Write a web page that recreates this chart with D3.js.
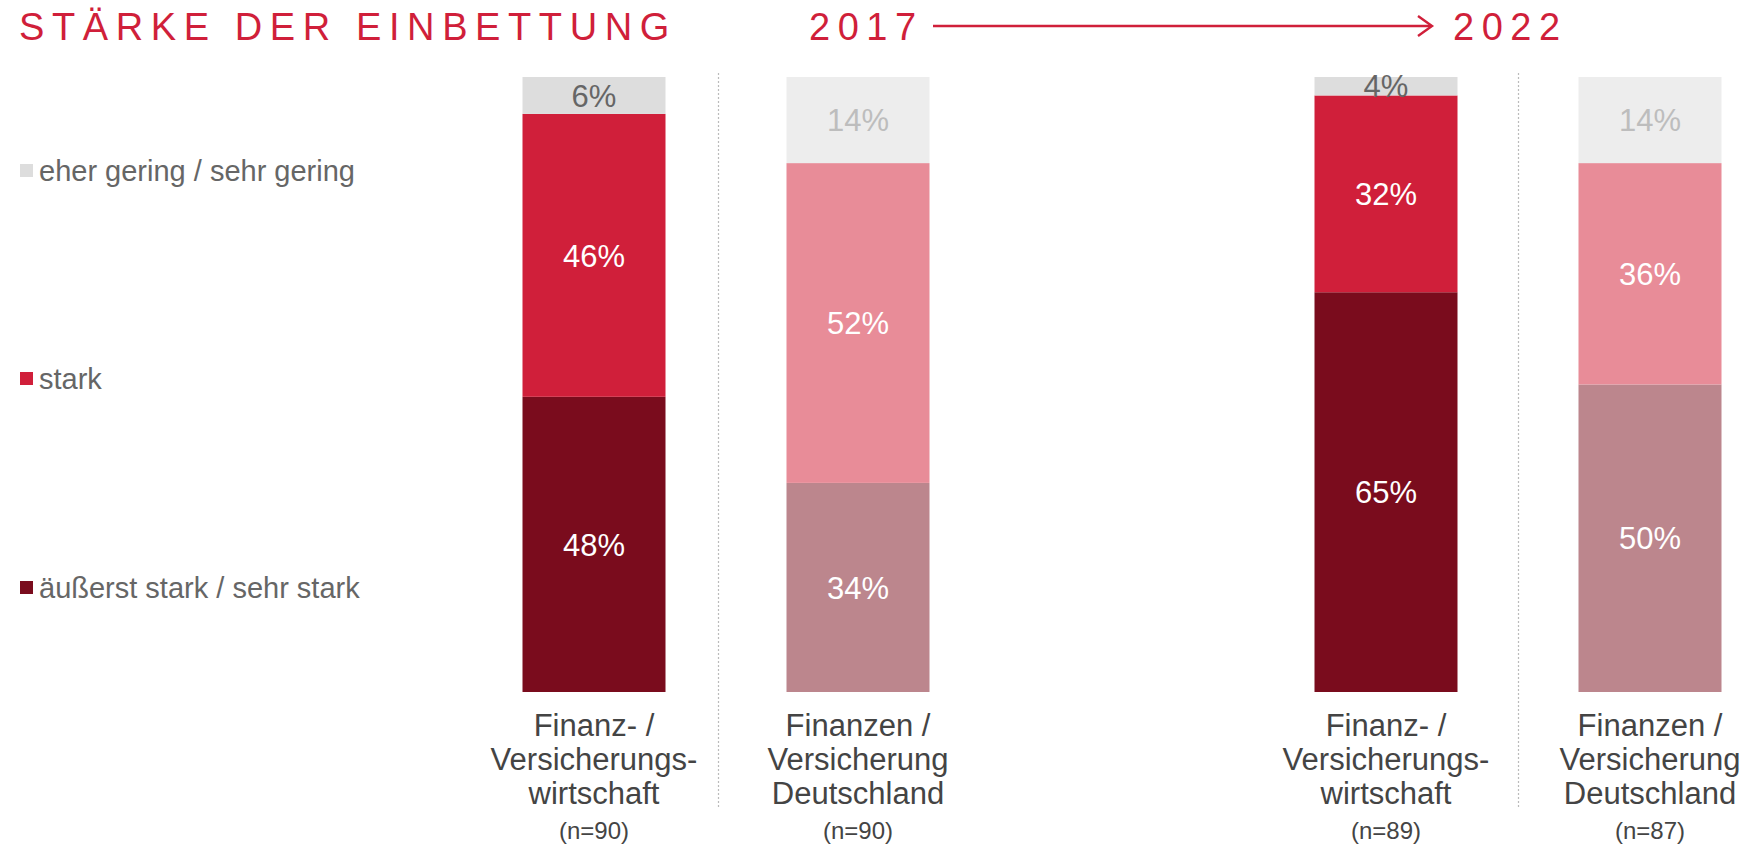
<!DOCTYPE html>
<html><head><meta charset="utf-8">
<script src="https://cdn.jsdelivr.net/npm/d3@7"></script>
<style>
html,body{margin:0;padding:0;background:#fff;}
svg{display:block;font-family:"Liberation Sans",Arial,sans-serif;}
</style></head>
<body><svg id="chart" width="1750" height="844"></svg>
<script>
// ---- data ----
const categories = ["fv2017", "fd2017", "gap", "fv2022", "fd2022"];
const categoryLines = [
  ["Finanz- /", "Versicherungs-", "wirtschaft"],
  ["Finanzen /", "Versicherung", "Deutschland"],
  [],
  ["Finanz- /", "Versicherungs-", "wirtschaft"],
  ["Finanzen /", "Versicherung", "Deutschland"]
];
const sampleSizes = ["(n=90)", "(n=90)", "", "(n=89)", "(n=87)"];
const seriesNames = ["äußerst stark / sehr stark", "stark", "eher gering / sehr gering"];
const valuesStrong = [48, 34, null, 65, 50];   // äußerst stark / sehr stark
const valuesMid    = [46, 52, null, 32, 36];   // stark
const valuesLow    = [6, 14, null, 4, 14];     // eher gering / sehr gering
const years = ["2017", "2022"];
const title = "STÄRKE DER EINBETTUNG";

// colours: industry bars (saturated) vs Germany bars (muted)
const palette = {
  fv: ["#7a0c1d", "#d01f3a", "#dddddd"],
  fd: ["#bc868d", "#e88c98", "#ededed"]
};
const labelColors = {
  fv: ["#ffffff", "#ffffff", "#666666"],
  fd: ["#ffffff", "#ffffff", "#bdbdbd"]
};

const svg = d3.select("#chart");

// ---- scales ----
const x = d3.scalePoint().domain(categories).range([594, 1650]);
const barW = 143;
const y = d3.scaleLinear().domain([0, 100]).range([692, 77]).clamp(true);

// ---- bars ----
const rows = categories.map((c, i) => ({
  cat: c, kind: c.startsWith("fv") ? "fv" : "fd",
  vals: [valuesStrong[i], valuesMid[i], valuesLow[i]]
})).filter(r => r.vals[0] !== null);

rows.forEach(r => {
  let base = 0;
  const g = svg.append("g");
  r.vals.forEach((v, k) => {
    const y0 = y(base), y1 = y(base + v);
    g.append("rect")
      .attr("x", x(r.cat) - barW / 2).attr("width", barW)
      .attr("y", y1).attr("height", y0 - y1)
      .attr("fill", palette[r.kind][k]);
    g.append("text")
      .attr("x", x(r.cat)).attr("y", (y0 + y1) / 2)
      .attr("dy", "0.36em")
      .attr("text-anchor", "middle")
      .attr("font-size", 31)
      .attr("fill", labelColors[r.kind][k])
      .text(v + "%");
    base += v;
  });
});

// ---- category labels ----
categories.forEach((c, i) => {
  if (!categoryLines[i].length) return;
  const t = svg.append("text")
    .attr("text-anchor", "middle").attr("font-size", 31).attr("fill", "#444");
  categoryLines[i].forEach((line, j) => {
    t.append("tspan").attr("x", x(c)).attr("y", 736 + j * 34).text(line);
  });
  svg.append("text").attr("x", x(c)).attr("y", 839)
    .attr("text-anchor", "middle").attr("font-size", 24).attr("fill", "#444")
    .text(sampleSizes[i]);
});

// ---- dotted separators ----
const step = x.step();
[["fv2017", -0.03], ["fv2022", 0]].forEach(([c, off]) => {
  const sx = Math.round(x(c) + step * (0.5 + off)) + 0.5;
  svg.append("line").attr("x1", sx).attr("x2", sx).attr("y1", 73).attr("y2", 808)
    .attr("stroke", "#bbbbbb").attr("stroke-width", 1.2).attr("stroke-dasharray", "2,2");
});

// ---- legend ----
const legendY = [588, 379, 171];
seriesNames.forEach((name, k) => {
  svg.append("rect").attr("x", 20).attr("y", legendY[k] - 7).attr("width", 13).attr("height", 13)
    .attr("fill", palette.fv[k]);
  svg.append("text").attr("x", 39).attr("y", legendY[k]).attr("dy", "0.36em")
    .attr("font-size", 29).attr("fill", "#666").text(name);
});

// ---- title ----
const red = "#d01f3a";
svg.append("text").attr("x", 19).attr("y", 40).attr("font-size", 38)
  .attr("letter-spacing", 7.6).attr("fill", red).text(title);
svg.append("text").attr("x", 809).attr("y", 40).attr("font-size", 38)
  .attr("letter-spacing", 7.5).attr("fill", red).text(years[0]);
svg.append("text").attr("x", 1453).attr("y", 40).attr("font-size", 38)
  .attr("letter-spacing", 7.5).attr("fill", red).text(years[1]);
svg.append("line").attr("x1", 933).attr("x2", 1431).attr("y1", 26).attr("y2", 26)
  .attr("stroke", red).attr("stroke-width", 2.6);
svg.append("path").attr("d", "M1418,16 L1432,26 L1418,36").attr("fill", "none")
  .attr("stroke", red).attr("stroke-width", 2.4);
</script></body></html>
